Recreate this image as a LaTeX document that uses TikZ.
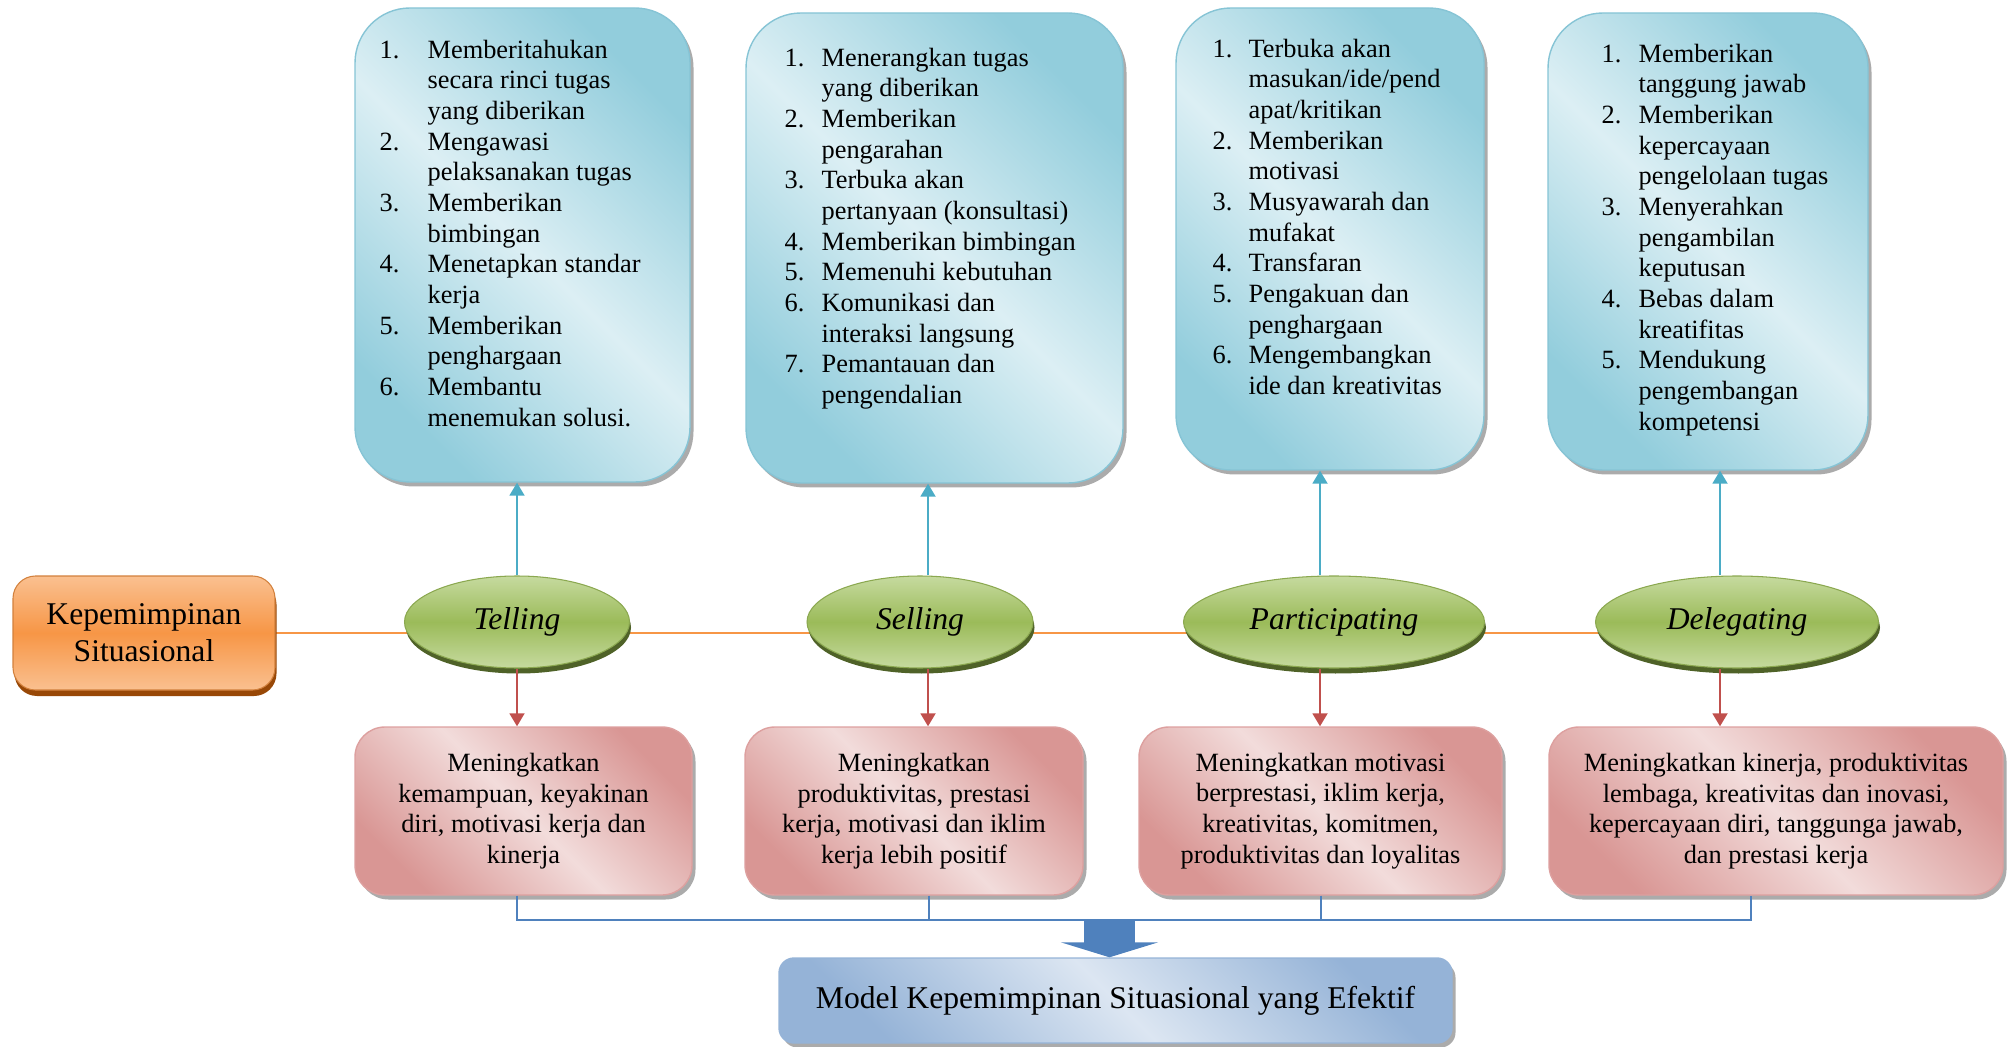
\documentclass[tikz,border=0pt]{standalone}
\usepackage{fontspec}
\setmainfont{Liberation Serif}
\usetikzlibrary{arrows.meta,shapes.geometric,shadows,backgrounds}

\definecolor{aquaD}{HTML}{92CDDC}
\definecolor{aquaL}{HTML}{DCEFF4}
\definecolor{aquaB}{HTML}{86C4D5}
\definecolor{grnM}{HTML}{9BBB59}
\definecolor{grnL}{HTML}{C6DA9F}
\definecolor{grnS}{HTML}{4F6228}
\definecolor{orgM}{HTML}{F79646}
\definecolor{orgL}{HTML}{FAC090}
\definecolor{orgS}{HTML}{984807}
\definecolor{pnkL}{HTML}{F2DCDB}
\definecolor{pnkD}{HTML}{D99694}
\definecolor{bluL}{HTML}{DCE6F2}
\definecolor{bluD}{HTML}{95B3D7}
\definecolor{bluA}{HTML}{4F81BD}
\definecolor{cyanA}{HTML}{4BACC6}
\definecolor{redA}{HTML}{C0504D}

\begin{document}
\begin{tikzpicture}[
	kepbox/.style={rectangle, rounded corners=0.45cm, draw=orgM!85!black, line width=0.6pt, top color=orgL, bottom color=orgL, middle color=orgM, minimum width=5.24cm, minimum height=2.28cm, align=center, font=\fontsize{18}{21}\selectfont, drop shadow={shadow xshift=0.03cm, shadow yshift=-0.12cm, fill=orgS, opacity=1}},
	oval/.style={ellipse, draw=grnM!90!black, line width=0.6pt, top color=grnL, bottom color=grnL, middle color=grnM, minimum height=1.84cm, inner sep=0pt, font=\itshape\fontsize{18}{21}\selectfont, drop shadow={shadow xshift=0.03cm, shadow yshift=-0.11cm, fill=grnS, opacity=1}},
	upbox/.style={rectangle, rounded corners=1.1cm, draw=aquaB, line width=0.8pt, top color=aquaD, bottom color=aquaD, middle color=aquaL, shading angle=-45, drop shadow={shadow xshift=0.07cm, shadow yshift=-0.09cm, fill=black!55, opacity=0.6}},
	lowbox/.style={rectangle, rounded corners=0.6cm, draw=pnkD!90!white, line width=0.8pt, top color=pnkD, bottom color=pnkD, middle color=pnkL, shading angle=-45, minimum height=3.36cm, align=center, font=\fontsize{15}{17.45}\selectfont, drop shadow={shadow xshift=0.07cm, shadow yshift=-0.09cm, fill=black!55, opacity=0.6}},
	modbox/.style={rectangle, rounded corners=0.3cm, draw=bluD, line width=0.8pt, top color=bluD, bottom color=bluD, middle color=bluL, shading angle=-45, minimum width=13.46cm, minimum height=1.7cm, font=\fontsize{18}{21}\selectfont, drop shadow={shadow xshift=0.07cm, shadow yshift=-0.09cm, fill=black!55, opacity=0.6}},
	list/.style={anchor=north west, inner sep=0pt, align=left, font=\fontsize{15}{17.45}\selectfont},
	uparr/.style={draw=cyanA, line width=1.1pt, -{Triangle[width=0.3cm,length=0.26cm]}},
	dnarr/.style={draw=redA, line width=1.1pt, -{Triangle[width=0.3cm,length=0.26cm]}},
	orgline/.style={draw=orgM, line width=1.6pt},
	busline/.style={draw=bluA, line width=1.3pt},
	fatarr/.style={draw=bluA, line width=1.02cm, -{Triangle[width=1.94cm,length=0.3cm]}}
	]

		\useasboundingbox (0,0) rectangle (40.16,20.92);

		\node[kepbox] (kep) at ( 2.88, 8.26) {Kepemimpinan\\Situasional};

		\node[oval, minimum width=4.50cm] (e1) at (10.34, 8.48) {Telling};
		\node[oval, minimum width=4.52cm] (e2) at (18.40, 8.48) {Selling};
		\node[oval, minimum width=6.02cm] (e3) at (26.68, 8.48) {Participating};
		\node[oval, minimum width=5.66cm] (e4) at (34.74, 8.48) {Delegating};

		\node[upbox, minimum width=6.70cm, minimum height=9.48cm] (u1) at (10.45, 16.02) {};
		\node[upbox, minimum width=7.54cm, minimum height=9.40cm] (u2) at (18.69, 15.96) {};
		\node[upbox, minimum width=6.16cm, minimum height=9.24cm] (u3) at (26.60, 16.14) {};
		\node[upbox, minimum width=6.40cm, minimum height=9.14cm] (u4) at (34.16, 16.09) {};

		\node[list] (t1) at ([xshift=0.50cm, yshift=-0.58cm]u1.north west) {\begin{tabular}{@{}p{0.96cm}@{}l@{}}
			1. & Memberitahukan\\ & secara rinci tugas\\ & yang diberikan\\
			2. & Mengawasi\\ & pelaksanakan tugas\\
			3. & Memberikan\\ & bimbingan\\
			4. & Menetapkan standar\\ & kerja\\
			5. & Memberikan\\ & penghargaan\\
			6. & Membantu\\ & menemukan solusi.
		\end{tabular}};
		\node[list] (t2) at ([xshift=0.78cm, yshift=-0.64cm]u2.north west) {\begin{tabular}{@{}p{0.74cm}@{}l@{}}
			1. & Menerangkan tugas\\ & yang diberikan\\
			2. & Memberikan\\ & pengarahan\\
			3. & Terbuka akan\\ & pertanyaan (konsultasi)\\
			4. & Memberikan bimbingan\\
			5. & Memenuhi kebutuhan\\
			6. & Komunikasi dan\\ & interaksi langsung\\
			7. & Pemantauan dan\\ & pengendalian
		\end{tabular}};
		\node[list] (t3) at ([xshift=0.74cm, yshift=-0.56cm]u3.north west) {\begin{tabular}{@{}p{0.72cm}@{}l@{}}
			1. & Terbuka akan\\ & masukan/ide/pend\\ & apat/kritikan\\
			2. & Memberikan\\ & motivasi\\
			3. & Musyawarah dan\\ & mufakat\\
			4. & Transfaran\\
			5. & Pengakuan dan\\ & penghargaan\\
			6. & Mengembangkan\\ & ide dan kreativitas
		\end{tabular}};
		\node[list] (t4) at ([xshift=1.08cm, yshift=-0.56cm]u4.north west) {\begin{tabular}{@{}p{0.74cm}@{}l@{}}
			1. & Memberikan\\ & tanggung jawab\\
			2. & Memberikan\\ & kepercayaan\\ & pengelolaan tugas\\
			3. & Menyerahkan\\ & pengambilan\\ & keputusan\\
			4. & Bebas dalam\\ & kreatifitas\\
			5. & Mendukung\\ & pengembangan\\ & kompetensi
		\end{tabular}};

		\node[lowbox, minimum width=6.74cm] (r1) at (10.47, 4.70) {Meningkatkan\\kemampuan, keyakinan\\diri, motivasi kerja dan\\kinerja};
		\node[lowbox, minimum width=6.76cm] (r2) at (18.28, 4.70) {Meningkatkan\\produktivitas, prestasi\\kerja, motivasi dan iklim\\kerja lebih positif};
		\node[lowbox, minimum width=7.26cm] (r3) at (26.41, 4.70) {Meningkatkan motivasi\\berprestasi, iklim kerja,\\kreativitas, komitmen,\\produktivitas dan loyalitas};
		\node[lowbox, minimum width=9.08cm] (r4) at (35.52, 4.70) {Meningkatkan kinerja, produktivitas\\lembaga, kreativitas dan inovasi,\\kepercayaan diri, tanggunga jawab,\\dan prestasi kerja};

		\node[modbox] (model) at (22.31, 0.91) {Model Kepemimpinan Situasional yang Efektif};
		\coordinate (bus) at (22.19, 2.52);

		\begin{scope}[on background layer]
		\draw[orgline] (kep.east) -- (kep.east -| e4);
		\end{scope}

		\draw[uparr] (e1.north) -- (e1.north |- u1.south);
		\draw[uparr] ([xshift= 0.16cm]e2.north) -- ([xshift= 0.16cm]e2.north |- u2.south);
		\draw[uparr] ([xshift=-0.28cm]e3.north) -- ([xshift=-0.28cm]e3.north |- u3.south);
		\draw[uparr] ([xshift=-0.34cm]e4.north) -- ([xshift=-0.34cm]e4.north |- u4.south);

		\draw[dnarr] (e1.south) -- (e1.south |- r1.north);
		\draw[dnarr] ([xshift= 0.16cm]e2.south) -- ([xshift= 0.16cm]e2.south |- r2.north);
		\draw[dnarr] ([xshift=-0.28cm]e3.south) -- ([xshift=-0.28cm]e3.south |- r3.north);
		\draw[dnarr] ([xshift=-0.34cm]e4.south) -- ([xshift=-0.34cm]e4.south |- r4.north);

		\draw[busline] (r1.south -| e1) -- (e1 |- bus) -- ([xshift=0.28cm]e4 |- bus) -- ([xshift=0.28cm]e4 |- r4.south);
		\draw[busline] ([xshift= 0.18cm]e2 |- r2.south) -- ([xshift= 0.18cm]e2 |- bus);
		\draw[busline] ([xshift=-0.26cm]e3 |- r3.south) -- ([xshift=-0.26cm]e3 |- bus);

		\draw[fatarr] (bus) -- (bus |- model.north);

	\end{tikzpicture}
\end{document}
